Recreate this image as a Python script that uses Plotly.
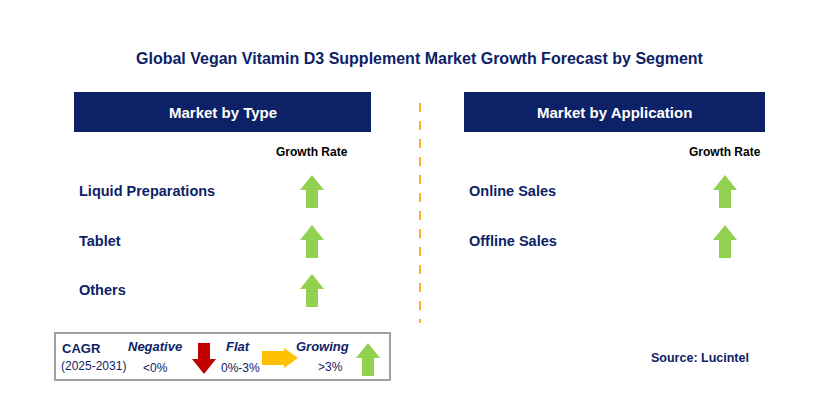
import plotly.graph_objects as go

title = "Global Vegan Vitamin D3 Supplement Market Growth Forecast by Segment"
panels = ["Market by Type", "Market by Application"]
type_cats = ["Liquid Preparations", "Tablet", "Others"]
type_growth = ["Growing", "Growing", "Growing"]
app_cats = ["Online Sales", "Offline Sales"]
app_growth = ["Growing", "Growing"]
row_y = [191, 241, 290]

NAVY = "#0d2266"
GREEN = "#92d050"
fig = go.Figure()
shapes, ann = [], []

def up(cx, top, bottom, color=GREEN, hw=12, sw=6, hh=15):
    return dict(type="path", fillcolor=color, line=dict(width=0),
                path=f"M{cx},{top} L{cx+hw},{top+hh} L{cx+sw},{top+hh} L{cx+sw},{bottom} L{cx-sw},{bottom} L{cx-sw},{top+hh} L{cx-hw},{top+hh} Z")

def down(cx, top, bottom, color, hw=12, sw=6, hh=15):
    return dict(type="path", fillcolor=color, line=dict(width=0),
                path=f"M{cx},{bottom} L{cx+hw},{bottom-hh} L{cx+sw},{bottom-hh} L{cx+sw},{top} L{cx-sw},{top} L{cx-sw},{bottom-hh} L{cx-hw},{bottom-hh} Z")

def right(left, rgt, cy, color, hh=16, sh=7, hw=14):
    return dict(type="path", fillcolor=color, line=dict(width=0),
                path=f"M{rgt},{cy} L{rgt-hw},{cy-hh/2-2} L{rgt-hw},{cy-sh} L{left},{cy-sh} L{left},{cy+sh} L{rgt-hw},{cy+sh} L{rgt-hw},{cy+hh/2+2} Z")

def txt(x, y, t, size=14, color=NAVY, bold=True, anchor="left", italic=False):
    s = t
    if bold: s = f"<b>{s}</b>"
    if italic: s = f"<i>{s}</i>"
    ann.append(dict(x=x, y=y, text=s, showarrow=False, xanchor=anchor, yanchor="middle",
                    font=dict(size=size, color=color, family="Arial")))

txt(420, 58, title, 16, NAVY, anchor="center")
for (x0, x1), p in zip([(74, 371), (464, 765)], panels):
    shapes.append(dict(type="rect", x0=x0, x1=x1, y0=92, y1=132, fillcolor=NAVY, line=dict(width=0)))
    txt((x0 + x1) / 2, 112, p, 15, "white", anchor="center")
shapes.append(dict(type="line", x0=420, x1=420, y0=103, y1=323, line=dict(color="#f5b325", width=2, dash="dash")))

for cx, cats, g in [(312, type_cats, type_growth), (725, app_cats, app_growth)]:
    txt(cx, 152, "Growth Rate", 12, "black", anchor="center")
    lx = 77 if cx < 400 else 467
    for i, c in enumerate(cats):
        y = row_y[i]
        txt(lx, y, c, 14.5)
        if g[i] == "Growing":
            shapes.append(up(cx, y - 16, y + 17))

# legend
shapes.append(dict(type="rect", x0=55, x1=390, y0=333, y1=380, line=dict(color="#a0a0a0", width=2), fillcolor="white"))
txt(60, 348, "CAGR", 13, NAVY)
txt(59, 366, "(2025-2031)", 12, NAVY, bold=False)
txt(155, 346, "Negative", 13, NAVY, italic=True, anchor="center")
txt(155, 368, "&lt;0%", 12, NAVY, bold=False, anchor="center")
shapes.append(down(204, 343, 374, "#c00000"))
txt(238, 346, "Flat", 13, NAVY, italic=True, anchor="center")
txt(240, 368, "0%-3%", 12, NAVY, bold=False, anchor="center")
shapes.append(right(262, 298, 358, "#ffc000"))
txt(322, 346, "Growing", 13, NAVY, italic=True, anchor="center")
txt(330, 367, "&gt;3%", 12, NAVY, bold=False, anchor="center")
shapes.append(up(368, 343, 376))
txt(700, 358, "Source: Lucintel", 12.5, NAVY, anchor="center")

fig.update_layout(width=829, height=408, margin=dict(l=0, r=0, t=0, b=0),
                  paper_bgcolor="white", plot_bgcolor="white", shapes=shapes, annotations=ann,
                  xaxis=dict(range=[8, 837], visible=False, fixedrange=True),
                  yaxis=dict(range=[416, 8], visible=False, fixedrange=True), showlegend=False)
fig.write_html("out.html", config={"displayModeBar": False})
